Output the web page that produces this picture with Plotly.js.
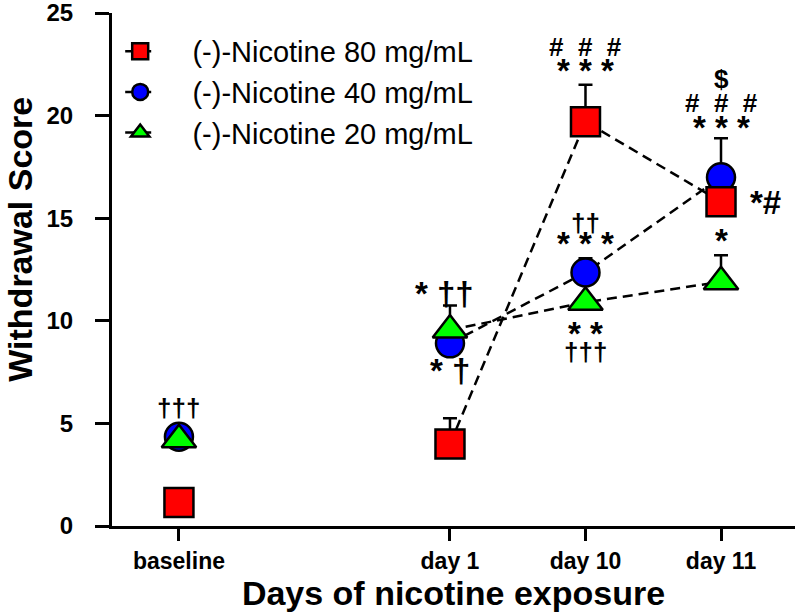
<!DOCTYPE html>
<html><head><meta charset="utf-8">
<script src="https://cdn.plot.ly/plotly-3.0.1.min.js"></script>
<style>html,body{margin:0;padding:0;background:#fff}</style>
</head><body><div id="chart" style="width:800px;height:616px"></div>
<script>
const dayLabels = ['baseline', 'day 1', 'day 10', 'day 11'];
const dayPos = [0, 2, 3, 4];
const seriesNames = ['(-)-Nicotine 80 mg/mL', '(-)-Nicotine 40 mg/mL', '(-)-Nicotine 20 mg/mL'];
const nic80 = [1.15, 4.0, 19.7, 15.8];
const nic40 = [4.35, 8.9, 12.35, 17.0];
const nic20 = [4.2, 9.55, 10.9, 11.9];
const sem80 = [0, 1.25, 1.8, 0];
const sem40 = [0, 0, 0.7, 1.9];
const sem20 = [0, 1.2, 0, 1.3];

// significance labels: text, day index, y (data units), x pixel shift, kind
const sigText = ['†††', '*\u00a0††', '*\u00a0†',
  '#\u00a0\u00a0#\u00a0\u00a0#', '*\u00a0*\u00a0*', '††', '*\u00a0*\u00a0*', '*\u00a0*', '†††',
  '$', '#\u00a0\u00a0#\u00a0\u00a0#', '*\u00a0*\u00a0*', '*#', '*'];
const sigDay = [0, 1, 1, 2, 2, 2, 2, 2, 2, 3, 3, 3, 3, 3];
const sigY = [5.75, 11.35, 7.6, 23.35, 22.2, 14.75, 13.75, 9.4, 8.5, 21.8, 20.6, 19.4, 15.75, 13.9];
const sigDx = [0, -5, 0, 0, 0, 0, 0, 0, 0, 0, 0, 0, 44, 0];
const sigKind = ['d', 'a', 'a', 'h', 'a', 'd', 'a', 'a', 'd', 'd', 'h', 'a', 'a', 'a'];

function gap(arr) { return [arr[0], null, arr[1], arr[2], arr[3]]; }
const gx = [dayPos[0], dayPos[0], dayPos[1], dayPos[2], dayPos[3]];

const styles = [
  {sym: 'square', color: '#ff0000', size: 29},
  {sym: 'circle', color: '#0000ff', size: 28},
  {sym: 'triangle-up', color: '#00ff00', size: 30}
];
const vals = [nic80, nic40, nic20];
const sems = [sem80, sem40, sem20];
const drawOrder = [1, 0, 2];
const legendPad = '\u00a0\u00a0\u00a0\u00a0';

const traces = drawOrder.map(i => ({
  x: gx, y: gap(vals[i]), mode: 'lines+markers', name: legendPad + seriesNames[i],
  legendrank: i + 1, legendgroup: 'g' + i,
  line: {color: 'black', dash: '10px,6px', width: 2.5},
  marker: {symbol: styles[i].sym, size: styles[i].size, color: styles[i].color,
           line: {color: 'black', width: 2.5}},
  error_y: {type: 'data', symmetric: false, array: gap(sems[i]),
            arrayminus: [0, 0, 0, 0, 0], color: 'black', thickness: 2.5, width: 7},
  cliponaxis: false, hoverinfo: 'skip'
}));

const fontFam = 'Liberation Sans, Arial, sans-serif';
const annSize = {a: 33, h: 26, d: 26};
const annotations = sigText.map((t, k) => ({
  x: dayPos[sigDay[k]], y: sigY[k], xref: 'x', yref: 'y', text: t, showarrow: false,
  xanchor: 'center', yanchor: 'middle', xshift: sigDx[k],
  font: {family: fontFam, size: annSize[sigKind[k]], color: 'black', weight: 'bold'}
}));
annotations.push({
  xref: 'paper', yref: 'paper', x: -0.1347, y: 0.56, xanchor: 'center', yanchor: 'middle',
  text: 'Withdrawal Score', textangle: -90, showarrow: false,
  font: {family: fontFam, size: 34, color: 'black', weight: 'bold'}
});

const layout = {
  width: 800, height: 616,
  margin: {l: 112, r: 5, t: 13, b: 90},
  paper_bgcolor: 'white', plot_bgcolor: 'white',
  showlegend: true,
  legend: {x: 0.012, y: 0.975, xanchor: 'left', yanchor: 'top', bgcolor: 'rgba(0,0,0,0)',
           font: {family: fontFam, size: 29, color: 'black'}, tracegroupgap: 0,
           traceorder: 'grouped'},
  xaxis: {range: [-0.494, 4.546], tickvals: dayPos, ticktext: dayLabels,
          showline: true, linecolor: 'black', linewidth: 3, ticks: 'outside', ticklen: 12,
          tickwidth: 3, tickcolor: 'black', showgrid: false, zeroline: false,
          tickfont: {family: fontFam, size: 23, color: 'black', weight: 'bold'},
          title: {text: 'Days of nicotine exposure', standoff: 8,
                  font: {family: fontFam, size: 34, color: 'black', weight: 'bold'}}},
  yaxis: {range: [0, 25], dtick: 5, tick0: 0,
          showline: true, linecolor: 'black', linewidth: 3, ticks: 'outside', ticklen: 14,
          tickwidth: 3, tickcolor: 'black', showgrid: false, zeroline: false,
          ticklabelstandoff: 17, ticklabeloverflow: 'allow',
          tickfont: {family: fontFam, size: 24, color: 'black', weight: 'bold'}},
  annotations: annotations
};

Plotly.newPlot('chart', traces, layout, {displayModeBar: false, staticPlot: true});
</script>
</body></html>
